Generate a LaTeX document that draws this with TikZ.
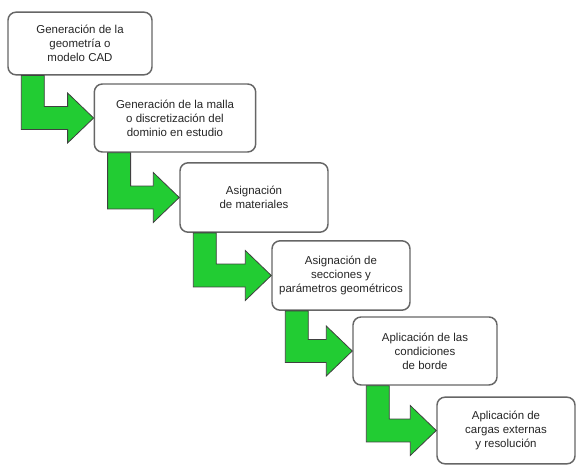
\documentclass[tikz,border=0pt]{standalone}
\usepackage{fontspec}
\setmainfont{Liberation Sans}
\usetikzlibrary{calc}

\begin{document}
\begin{tikzpicture}[
        x=0.75pt, y=-0.75pt,
        every node/.style={font=\fontsize{8.6}{10.5}\selectfont},
        stage/.style={rectangle,draw=black!60,line width=1.1pt,rounded corners=6pt,
          fill=white,align=center,text=black!85,inner sep=2pt},
        bentarrow/.style={fill={rgb,255:red,34;green,204;blue,51},draw=black!75,line width=0.6pt}
      ]
      \useasboundingbox (0,0) rectangle (576,466);

      % Stages of the workflow
      \node[stage,minimum width=108pt,minimum height=47pt] (s1) at (80,43.5)
        {Generación de la\\ geometría o\\ modelo CAD};
      \node[stage,minimum width=121pt,minimum height=51pt] (s2) at (175,118)
        {Generación de la malla\\ o discretización del\\ dominio en estudio};
      \node[stage,minimum width=111pt,minimum height=52pt] (s3) at (254,197.5)
        {Asignación\\ de materiales};
      \node[stage,minimum width=103.5pt,minimum height=52pt] (s4) at (341,275.5)
        {Asignación de\\ secciones y\\ parámetros geométricos};
      \node[stage,minimum width=108pt,minimum height=51pt] (s5) at (425,351)
        {Aplicación de las\\ condiciones\\ de borde};
      \node[stage,minimum width=103.5pt,minimum height=50pt] (s6) at (506,430.5)
        {Aplicación de\\ cargas externas\\ y resolución};

      % Green bent arrows from one stage to the next
      \foreach \a/\b in {s1/s2, s2/s3, s3/s4, s4/s5, s5/s6}
        \draw[bentarrow] let \p1=(\a.south west), \p2=(\b.west) in
          ({\x1+10.5pt},\y1) -- ({\x1+27.75pt},\y1)
          -- ({\x1+27.75pt},{\y2+8.6pt}) -- ({\x2-19.5pt},{\y2+8.6pt})
          -- ({\x2-19.5pt},{\y2+18.75pt}) -- (\p2)
          -- ({\x2-19.5pt},{\y2-18.75pt}) -- ({\x2-19.5pt},{\y2-8.6pt})
          -- ({\x1+10.5pt},{\y2-8.6pt}) -- cycle;
    \end{tikzpicture}
\end{document}
